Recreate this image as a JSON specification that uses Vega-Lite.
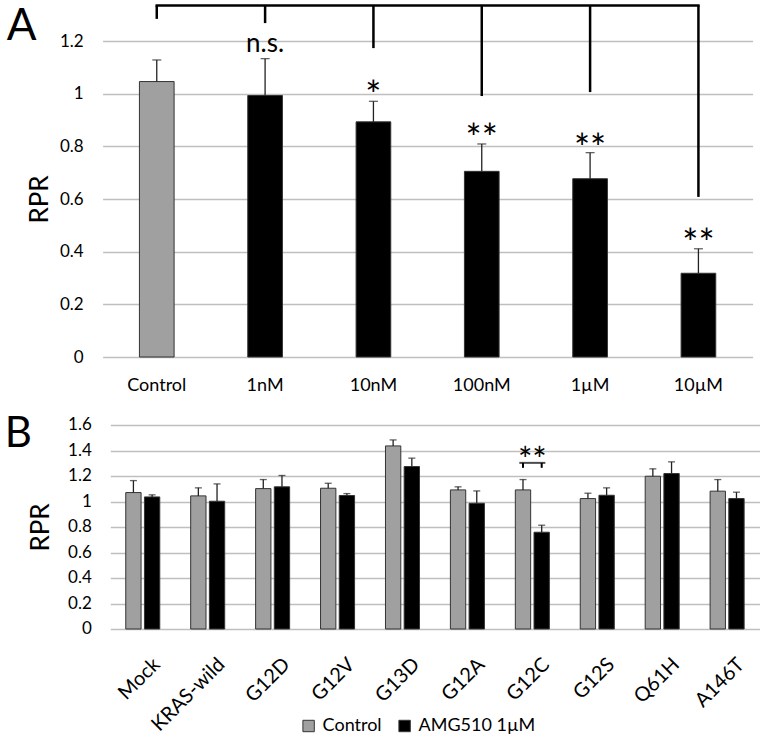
{
  "$schema": "https://vega.github.io/schema/vega-lite/v6.json",
  "padding": {"left": 4.6, "top": 3, "right": 0, "bottom": 0},
  "autosize": {"type": "pad"},
  "background": "white",
  "config": {
    "font": "Lato",
    "view": {"stroke": null},
    "axis": {"labelColor": "#000", "titleColor": "#000", "labelFontSize": 17, "labelFont": "Lato", "titleFont": "Lato", "titleFontWeight": "normal", "domain": false, "ticks": false, "tickSize": 0, "gridColor": "#bfbfbf", "gridWidth": 1.5, "labelOverlap": false},
    "title": {"font": "Lato", "fontWeight": "normal", "color": "#000"}
  },
  "datasets": {
    "A": [
      {"dose": "Control", "value": 1.046, "upper": 1.128, "drop": 1.284, "sig": ""},
      {"dose": "1nM", "value": 0.993, "upper": 1.133, "drop": 1.268, "sig": "n.s.", "sigY": 1.158},
      {"dose": "10nM", "value": 0.893, "upper": 0.971, "drop": 1.173, "sig": "*", "sigY": 0.940},
      {"dose": "100nM", "value": 0.705, "upper": 0.809, "drop": 0.991, "sig": "**", "sigY": 0.777},
      {"dose": "1µM", "value": 0.677, "upper": 0.776, "drop": 1.006, "sig": "**", "sigY": 0.739},
      {"dose": "10µM", "value": 0.318, "upper": 0.411, "drop": 0.608, "sig": "**", "sigY": 0.378}
    ],
    "Abracket": [
      {"dose": "Control", "to": "10µM", "level": 1.335}
    ],
    "B": [
      {"mutation": "Mock", "series": "Control", "value": 1.070, "upper": 1.164},
      {"mutation": "Mock", "series": "AMG510 1µM", "value": 1.036, "upper": 1.052},
      {"mutation": "KRAS-wild", "series": "Control", "value": 1.044, "upper": 1.107},
      {"mutation": "KRAS-wild", "series": "AMG510 1µM", "value": 1.002, "upper": 1.138},
      {"mutation": "G12D", "series": "Control", "value": 1.101, "upper": 1.172},
      {"mutation": "G12D", "series": "AMG510 1µM", "value": 1.115, "upper": 1.204},
      {"mutation": "G12V", "series": "Control", "value": 1.104, "upper": 1.143},
      {"mutation": "G12V", "series": "AMG510 1µM", "value": 1.047, "upper": 1.062},
      {"mutation": "G13D", "series": "Control", "value": 1.436, "upper": 1.483},
      {"mutation": "G13D", "series": "AMG510 1µM", "value": 1.274, "upper": 1.340},
      {"mutation": "G12A", "series": "Control", "value": 1.091, "upper": 1.115},
      {"mutation": "G12A", "series": "AMG510 1µM", "value": 0.986, "upper": 1.083},
      {"mutation": "G12C", "series": "Control", "value": 1.091, "upper": 1.172},
      {"mutation": "G12C", "series": "AMG510 1µM", "value": 0.759, "upper": 0.814},
      {"mutation": "G12S", "series": "Control", "value": 1.023, "upper": 1.065},
      {"mutation": "G12S", "series": "AMG510 1µM", "value": 1.049, "upper": 1.107},
      {"mutation": "Q61H", "series": "Control", "value": 1.198, "upper": 1.256},
      {"mutation": "Q61H", "series": "AMG510 1µM", "value": 1.219, "upper": 1.311},
      {"mutation": "A146T", "series": "Control", "value": 1.081, "upper": 1.172},
      {"mutation": "A146T", "series": "AMG510 1µM", "value": 1.023, "upper": 1.073}
    ],
    "Bsig": [
      {"mutation": "G12C", "series": "Control", "low": 1.264, "high": 1.303},
      {"mutation": "G12C", "series": "AMG510 1µM", "low": 1.264, "high": 1.303}
    ],
    "Bstar": [
      {"mutation": "G12C", "high": 1.303, "sig": "**", "sigY": 1.232}
    ]
  },
  "concat": [
    {
      "width": 646,
      "height": 316,
      "title": {"text": "A", "anchor": "start", "frame": "bounds", "orient": "top", "fontSize": 44, "offset": 0, "dx": -19.5, "dy": 45},
      "encoding": {
        "x": {"field": "dose", "type": "nominal", "sort": null,
          "scale": {"domain": ["Control", "1nM", "10nM", "100nM", "1µM", "10µM"], "range": [-4, 646], "paddingInner": 0.68, "paddingOuter": 0.34},
          "axis": {"title": null, "labelAngle": 0, "labelPadding": 20, "labelFontSize": 18, "grid": false}}
      },
      "layer": [
        {
          "data": {"name": "A"},
          "mark": {"type": "bar", "stroke": "#333", "strokeWidth": 1},
          "encoding": {
            "y": {"field": "value", "type": "quantitative",
              "scale": {"domain": [0, 1.2], "nice": false},
              "axis": {"title": "RPR", "titleFontSize": 26, "titlePadding": 7, "labelPadding": 23.5, "labelOverlap": false, "tickCount": 7, "values": [0, 0.2, 0.4, 0.6, 0.8, 1, 1.2], "format": "~g", "grid": true}},
            "color": {"condition": {"test": "datum.dose === 'Control'", "value": "#a0a0a0"}, "value": "#000000"}
          }
        },
        {
          "data": {"name": "A"},
          "mark": {"type": "rule", "stroke": "#222", "strokeWidth": 1.3},
          "encoding": {"y": {"field": "value", "type": "quantitative"}, "y2": {"field": "upper"}}
        },
        {
          "data": {"name": "A"},
          "mark": {"type": "tick", "color": "#222", "thickness": 1.3, "size": 9},
          "encoding": {"y": {"field": "upper", "type": "quantitative"}}
        },
        {
          "data": {"name": "Abracket"},
          "mark": {"type": "rule", "stroke": "#000", "strokeWidth": 2.5, "strokeCap": "square"},
          "encoding": {"y": {"field": "level", "type": "quantitative"}, "x2": {"field": "to"}}
        },
        {
          "data": {"name": "A"},
          "mark": {"type": "rule", "stroke": "#000", "strokeWidth": 2.5},
          "encoding": {"y": {"field": "drop", "type": "quantitative"}, "y2": {"datum": 1.335}}
        },
        {
          "data": {"name": "A"},
          "transform": [{"filter": "datum.sig === 'n.s.'"}],
          "mark": {"type": "text", "fontSize": 26, "baseline": "alphabetic", "color": "#000"},
          "encoding": {"y": {"field": "sigY", "type": "quantitative"}, "text": {"field": "sig"}}
        },
        {
          "data": {"name": "A"},
          "transform": [{"filter": "datum.sig === '*' || datum.sig === '**'"}],
          "mark": {"type": "text", "fontSize": 38, "baseline": "alphabetic", "color": "#000"},
          "encoding": {"y": {"field": "sigY", "type": "quantitative"}, "text": {"field": "sig"}}
        }
      ]
    },
    {
      "width": 653,
      "height": 204,
      "title": {"text": "B", "anchor": "start", "frame": "bounds", "orient": "top", "fontSize": 42, "offset": 0, "dx": -22.3, "dy": 40},
      "encoding": {
        "x": {"field": "mutation", "type": "nominal", "sort": null,
          "scale": {"domain": ["Mock", "KRAS-wild", "G12D", "G12V", "G13D", "G12A", "G12C", "G12S", "Q61H", "A146T"], "range": [3.7, 653], "paddingInner": 0.476, "paddingOuter": 0.238},
          "axis": {"title": null, "labelAngle": -45, "labelAlign": "right", "labelBaseline": "top", "labelPadding": 25, "labelOffset": 7, "labelFontSize": 20, "grid": false}}
      },
      "layer": [
        {
          "data": {"name": "B"},
          "mark": {"type": "bar", "stroke": "#333", "strokeWidth": 1},
          "encoding": {
            "xOffset": {"field": "series", "type": "nominal", "sort": null,
              "scale": {"domain": ["Control", "AMG510 1µM"], "paddingInner": 0.18, "paddingOuter": 0}},
            "y": {"field": "value", "type": "quantitative",
              "scale": {"domain": [0, 1.6], "nice": false},
              "axis": {"title": "RPR", "titleFontSize": 26, "titlePadding": 14.5, "labelPadding": 15.3, "labelOverlap": false, "tickCount": 9, "values": [0, 0.2, 0.4, 0.6, 0.8, 1, 1.2, 1.4, 1.6], "format": "~g", "grid": true}},
            "color": {"field": "series", "type": "nominal",
              "scale": {"domain": ["Control", "AMG510 1µM"], "range": ["#a0a0a0", "#000000"]},
              "legend": {"title": null, "orient": "none", "legendX": 193, "legendY": 676, "direction": "horizontal", "symbolType": "square", "symbolSize": 130, "symbolStrokeColor": "#333", "symbolStrokeWidth": 1, "symbolOpacity": 1, "labelFontSize": 18, "labelColor": "#000", "labelOffset": 5, "columnPadding": 13, "padding": 0}}
          }
        },
        {
          "data": {"name": "B"},
          "mark": {"type": "rule", "stroke": "#222", "strokeWidth": 1.3},
          "encoding": {"xOffset": {"field": "series", "type": "nominal", "sort": null}, "y": {"field": "value", "type": "quantitative", "axis": {"tickCount": 9}}, "y2": {"field": "upper"}}
        },
        {
          "data": {"name": "B"},
          "mark": {"type": "tick", "color": "#222", "thickness": 1.3, "size": 7},
          "encoding": {"xOffset": {"field": "series", "type": "nominal", "sort": null}, "y": {"field": "upper", "type": "quantitative", "axis": {"tickCount": 9}}}
        },
        {
          "data": {"name": "Bsig"},
          "mark": {"type": "rule", "stroke": "#000", "strokeWidth": 2},
          "encoding": {"xOffset": {"field": "series", "type": "nominal", "sort": null}, "y": {"field": "low", "type": "quantitative", "axis": {"tickCount": 9}}, "y2": {"field": "high"}}
        },
        {
          "data": {"name": "Bstar"},
          "mark": {"type": "tick", "color": "#000", "thickness": 2, "size": 26},
          "encoding": {"y": {"field": "high", "type": "quantitative", "axis": {"tickCount": 9}}}
        },
        {
          "data": {"name": "Bstar"},
          "mark": {"type": "text", "fontSize": 34, "baseline": "alphabetic", "color": "#000"},
          "encoding": {"y": {"field": "sigY", "type": "quantitative", "axis": {"tickCount": 9}}, "text": {"field": "sig"}}
        }
      ]
    }
  ],
  "columns": 1,
  "spacing": 18,
  "align": "none"
}
